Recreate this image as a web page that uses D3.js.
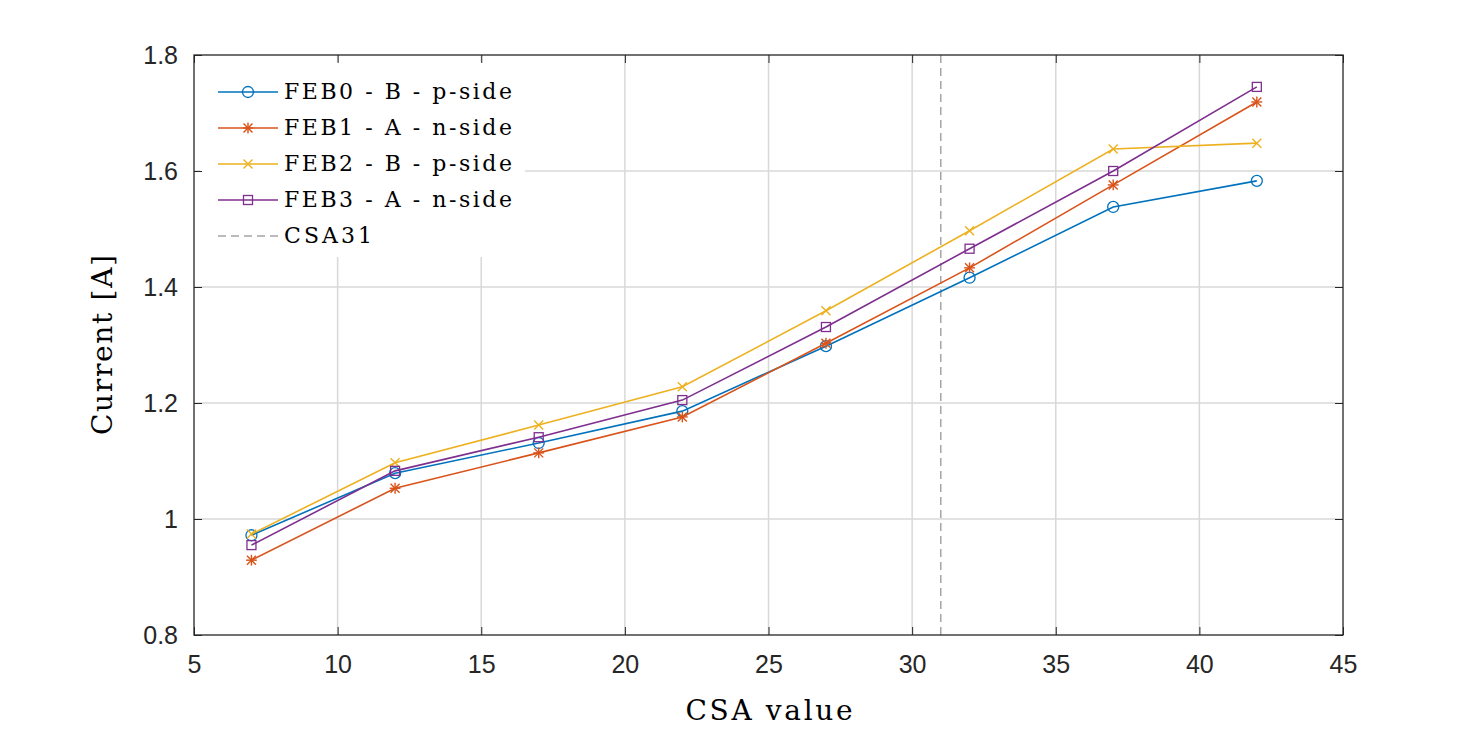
<!DOCTYPE html>
<html><head><meta charset="utf-8">
<script src="https://cdn.jsdelivr.net/npm/d3@7"></script>
<style>body{margin:0;background:#fff;overflow:hidden}</style>
</head><body>
<script>
const csa = [7, 12, 17, 22, 27, 32, 37, 42]
const feb0 = [0.972, 1.079, 1.131, 1.186, 1.298, 1.416, 1.538, 1.583]
const feb1 = [0.929, 1.053, 1.114, 1.176, 1.303, 1.433, 1.576, 1.719]
const feb2 = [0.974, 1.097, 1.162, 1.228, 1.359, 1.497, 1.638, 1.648]
const feb3 = [0.955, 1.083, 1.141, 1.205, 1.331, 1.466, 1.600, 1.745]
const xTicks = [5, 10, 15, 20, 25, 30, 35, 40, 45]
const yTicks = [0.8, 1, 1.2, 1.4, 1.6, 1.8]
const csaLine = 31

const series = [
    {name: 'FEB0 - B - p-side', values: feb0, color: '#0072BD', marker: 'circle'},
    {name: 'FEB1 - A - n-side', values: feb1, color: '#D95319', marker: 'star'},
    {name: 'FEB2 - B - p-side', values: feb2, color: '#EDB120', marker: 'cross'},
    {name: 'FEB3 - A - n-side', values: feb3, color: '#7E2F8E', marker: 'square'}
]

const width = 1484, height = 734
const m = {left: 194, right: 1343, top: 55, bottom: 635}
const x = d3.scaleLinear().domain([5, 45]).range([m.left, m.right])
const y = d3.scaleLinear().domain([0.8, 1.8]).range([m.bottom, m.top])
const serif = 'DejaVu Serif, Liberation Serif, serif'

const svg = d3.select('body').append('svg').attr('width', width).attr('height', height)

// grid
svg.append('g').selectAll('line').data(xTicks.slice(1, -1)).enter().append('line')
    .attr('x1', d => x(d)).attr('x2', d => x(d)).attr('y1', m.top).attr('y2', m.bottom)
    .attr('stroke', '#d8d8d8').attr('stroke-width', 1.5)
svg.append('g').selectAll('line').data(yTicks.slice(1, -1)).enter().append('line')
    .attr('y1', d => y(d)).attr('y2', d => y(d)).attr('x1', m.left).attr('x2', m.right)
    .attr('stroke', '#d8d8d8').attr('stroke-width', 1.5)

// CSA31 line
svg.append('line').attr('x1', x(csaLine)).attr('x2', x(csaLine)).attr('y1', m.top).attr('y2', m.bottom)
    .attr('stroke', '#777').attr('stroke-dasharray', '8,5').attr('stroke-width', 1)

const line = d3.line().x((d, i) => x(csa[i])).y(d => y(d))

function drawMarker(g, type, color, cx, cy) {
    if (type === 'circle') g.append('circle').attr('cx', cx).attr('cy', cy).attr('r', 5.5)
        .attr('fill', 'none').attr('stroke', color).attr('stroke-width', 1.3)
    else if (type === 'square') g.append('rect').attr('x', cx - 4.5).attr('y', cy - 4.5)
        .attr('width', 9).attr('height', 9).attr('fill', 'none').attr('stroke', color).attr('stroke-width', 1.3)
    else {
        const s = 4.5
        const segs = [[-s, -s, s, s], [-s, s, s, -s]]
        if (type === 'star') segs.push([-s * 1.2, 0, s * 1.2, 0], [0, -s * 1.2, 0, s * 1.2])
        segs.forEach(q => g.append('line').attr('x1', cx + q[0]).attr('y1', cy + q[1])
            .attr('x2', cx + q[2]).attr('y2', cy + q[3]).attr('stroke', color).attr('stroke-width', 1.4))
    }
}

series.forEach(s => {
    svg.append('path').attr('d', line(s.values)).attr('fill', 'none')
        .attr('stroke', s.color).attr('stroke-width', 1.6)
    const g = svg.append('g')
    s.values.forEach((v, i) => drawMarker(g, s.marker, s.color, x(csa[i]), y(v)))
})

// legend
const lg = svg.append('g')
lg.append('rect').attr('x', 200).attr('y', 62).attr('width', 325).attr('height', 195).attr('fill', '#fff')
const items = series.concat([{name: 'CSA31', color: '#777', dashed: true}])
items.forEach((s, i) => {
    const ly = 92 + i * 36
    lg.append('line').attr('x1', 218).attr('x2', 278).attr('y1', ly).attr('y2', ly)
        .attr('stroke', s.color).attr('stroke-width', s.dashed ? 1 : 1.6)
        .attr('stroke-dasharray', s.dashed ? '8,5' : null)
    if (s.marker) drawMarker(lg, s.marker, s.color, 248, ly)
    lg.append('text').attr('x', 284).attr('y', ly + 7).text(s.name)
        .attr('textLength', s.dashed ? 88 : 228).attr('lengthAdjust', 'spacing')
        .style('font-family', serif).style('font-size', '22px')
})

// axes box
svg.append('rect').attr('x', m.left).attr('y', m.top).attr('width', m.right - m.left)
    .attr('height', m.bottom - m.top).attr('fill', 'none').attr('stroke', '#262626').attr('stroke-width', 1.3)

const ax = svg.append('g').attr('transform', `translate(0,${m.bottom})`)
    .call(d3.axisBottom(x).tickValues(xTicks).tickSize(-8).tickPadding(20))
const axt = svg.append('g').attr('transform', `translate(0,${m.top})`)
    .call(d3.axisTop(x).tickValues(xTicks).tickSize(-8).tickFormat(''))
const ay = svg.append('g').attr('transform', `translate(${m.left},0)`)
    .call(d3.axisLeft(y).tickValues(yTicks).tickSize(-8).tickPadding(16).tickFormat(d3.format('')))
const ayr = svg.append('g').attr('transform', `translate(${m.right},0)`)
    .call(d3.axisRight(y).tickValues(yTicks).tickSize(-8).tickFormat(''))
;[ax, axt, ay, ayr].forEach(a => {
    a.select('.domain').remove()
    a.selectAll('line').attr('stroke', '#262626')
    a.selectAll('text').attr('fill', '#262626')
        .style('font-family', 'Liberation Sans, Arial, sans-serif').style('font-size', '25px')
})

svg.append('text').attr('x', 769).attr('y', 720).attr('text-anchor', 'middle')
    .text('CSA value').attr('textLength', 167).attr('lengthAdjust', 'spacing')
    .style('font-family', serif).style('font-size', '28px')
svg.append('text').attr('transform', `translate(112,${(m.top + m.bottom) / 2}) rotate(-90)`)
    .attr('text-anchor', 'middle').text('Current [A]').attr('textLength', 180).attr('lengthAdjust', 'spacing')
    .style('font-family', serif).style('font-size', '28px')
</script>
</body></html>
